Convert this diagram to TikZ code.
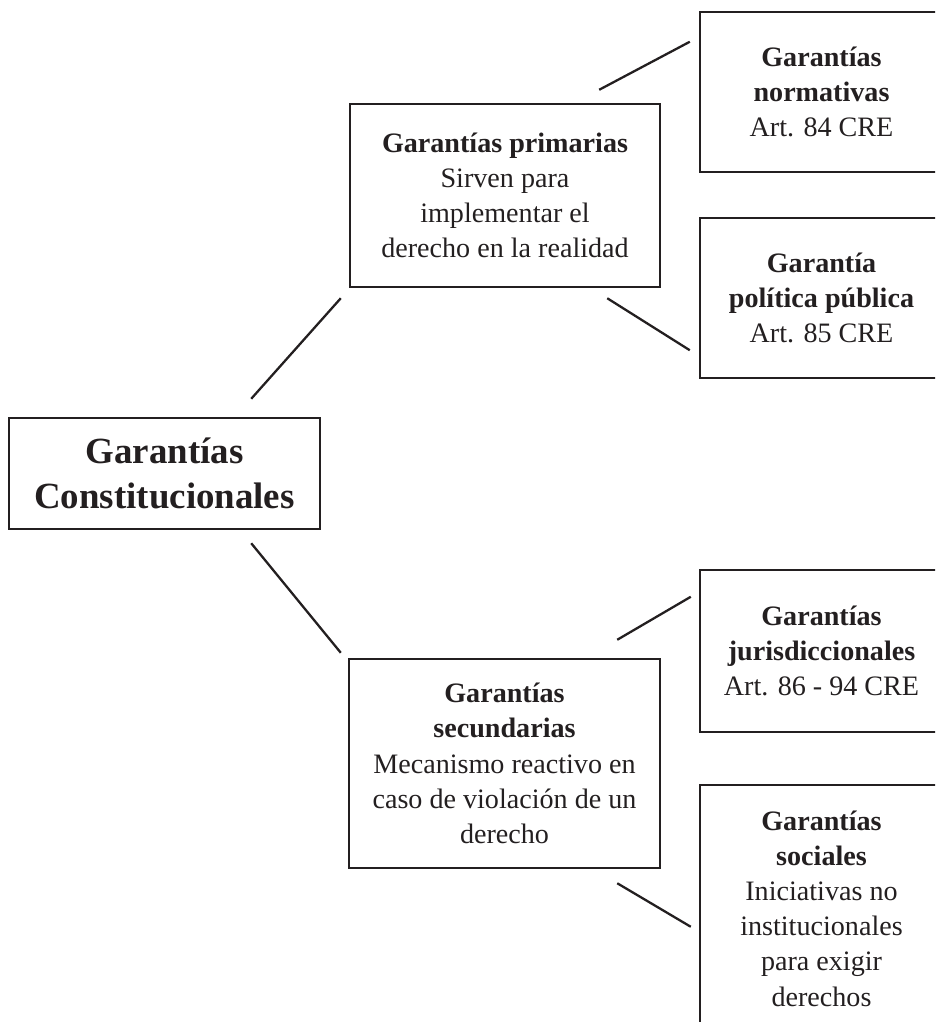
\documentclass[tikz,border=0pt]{standalone}
\usepackage{fontspec}
\setmainfont{Liberation Serif}
\usetikzlibrary{positioning}
\definecolor{tinta}{RGB}{35,31,32}
\tikzset{
	caja/.style={draw=tinta, line width=1.4pt, rectangle, inner sep=0pt, align=center, text=tinta, font=\fontsize{16}{20}\selectfont},
	enlace/.style={draw=tinta, line width=1.3pt}
}
\begin{document}
\begin{tikzpicture}
	\clip (0,0) rectangle (18.7,-20.44);
	% Caja principal
		\node[caja, minimum width=6.22cm, minimum height=2.22cm, font=\fontsize{21}{26}\selectfont] (garantias) at (3.29,-9.47) {\textbf{Garantías}\\\textbf{Constitucionales}};
	
	% Garantías primarias y secundarias
		\node[caja, minimum width=6.2cm, minimum height=3.66cm] (primarias) at (10.1,-3.91) {\textbf{Garantías primarias}\\Sirven para\\implementar el\\derecho en la realidad};
		\node[caja, minimum width=6.22cm, minimum height=4.18cm] (secundarias) at (10.09,-15.27) {\textbf{Garantías}\\\textbf{secundarias}\\Mecanismo reactivo en\\caso de violación de un\\derecho};
	
	% Cajas de la derecha (cortadas por el borde)
		\node[caja, minimum width=4.86cm, minimum height=3.2cm] (normativas) at (16.43,-1.84) {\textbf{Garantías}\\\textbf{normativas}\\Art. 84 CRE};
		\node[caja, minimum width=4.86cm, minimum height=3.2cm] (politica) at (16.43,-5.96) {\textbf{Garantía}\\\textbf{política pública}\\Art. 85 CRE};
		\node[caja, minimum width=4.86cm, minimum height=3.24cm] (jurisdiccionales) at (16.43,-13.02) {\textbf{Garantías}\\\textbf{jurisdiccionales}\\Art. 86 - 94 CRE};
		\node[caja, minimum width=4.86cm, minimum height=4.94cm] (sociales) at (16.43,-18.17) {\textbf{Garantías}\\\textbf{sociales}\\Iniciativas no\\institucionales\\para exigir\\derechos};
	
	% Enlaces
		\draw[enlace] ([xshift=-1.4cm, yshift=0.36cm]garantias.north east) -- ([xshift=-0.16cm, yshift=-0.2cm]primarias.south west);
		\draw[enlace] ([xshift=-1.4cm, yshift=-0.26cm]garantias.south east) -- ([xshift=-0.14cm, yshift=0.1cm]secundarias.north west);
		
		\draw[enlace] ([xshift=-1.24cm, yshift=0.26cm]primarias.north east) -- ([xshift=-0.18cm, yshift=-0.62cm]normativas.north west);
		\draw[enlace] ([xshift=-1.08cm, yshift=-0.2cm]primarias.south east) -- ([xshift=-0.18cm, yshift=0.58cm]politica.south west);
		
		\draw[enlace] ([xshift=-0.88cm, yshift=0.36cm]secundarias.north east) -- ([xshift=-0.16cm, yshift=-0.56cm]jurisdiccionales.north west);
		\draw[enlace] ([xshift=-0.88cm, yshift=-0.28cm]secundarias.south east) -- ([xshift=-0.16cm, yshift=-2.86cm]sociales.north west);
\end{tikzpicture}
\end{document}
